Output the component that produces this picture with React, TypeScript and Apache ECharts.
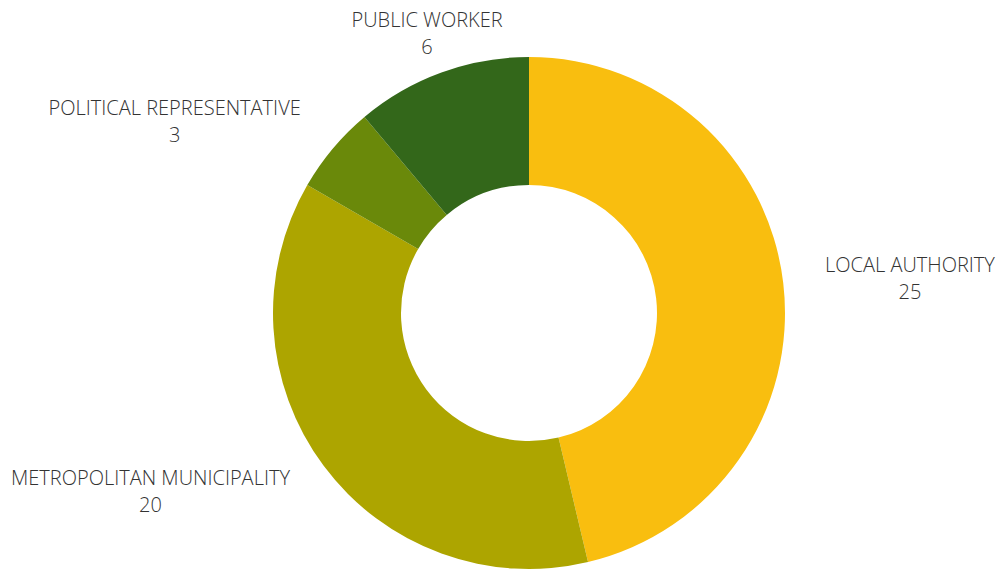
import React, { useEffect, useRef } from "react";
import * as echarts from "echarts";

const categories = [
  "LOCAL AUTHORITY",
  "METROPOLITAN MUNICIPALITY",
  "POLITICAL REPRESENTATIVE",
  "PUBLIC WORKER",
];
const values = [25, 20, 3, 6];
const colors = ["#F9BE0F", "#ADA500", "#6A890A", "#33671A"];

export default function App() {
  const ref = useRef<HTMLDivElement>(null);
  useEffect(() => {
    if (!ref.current) return;
    const chart = echarts.init(ref.current, undefined, { renderer: "svg" });
    const total = values.reduce((a, b) => a + b, 0);
    const midAngles: number[] = [];
    let acc = 0;
    values.forEach((v) => {
      midAngles.push(((acc + v / 2) / total) * Math.PI * 2);
      acc += v;
    });
    const textBase = {
      fontFamily: "'Open Sans', sans-serif",
      fontWeight: 300 as any,
      fontSize: 20,
      color: "#333333",
      lineHeight: 27,
    };
    chart.setOption({
      animation: false,
      backgroundColor: "#ffffff",
      series: [
        {
          type: "pie",
          center: [529, 313],
          radius: [128, 256],
          startAngle: 90,
          clockwise: true,
          avoidLabelOverlap: false,
          data: categories.map((name, i) => ({
            name,
            value: values[i],
            itemStyle: { color: colors[i] },
          })),
          label: {
            show: true,
            position: "outside",
            distanceToLabelLine: 0,
            formatter: "{a|{b}}\n{a|{c}}",
            ...textBase,
            rich: { a: { ...textBase, align: "center" } },
          },
          labelLine: { show: false, length: 42, length2: 0 },
          labelLayout: (params: any) => {
            const ang = midAngles[params.dataIndex];
            if (Math.abs(Math.sin(ang)) < 0.5) return { align: "center" };
            return {};
          },
          emphasis: { disabled: true },
        },
      ],
    });
    return () => chart.dispose();
  }, []);
  return (
    <div
      ref={ref}
      style={{ position: "fixed", left: 0, top: 0, width: 1001, height: 571 }}
    />
  );
}
